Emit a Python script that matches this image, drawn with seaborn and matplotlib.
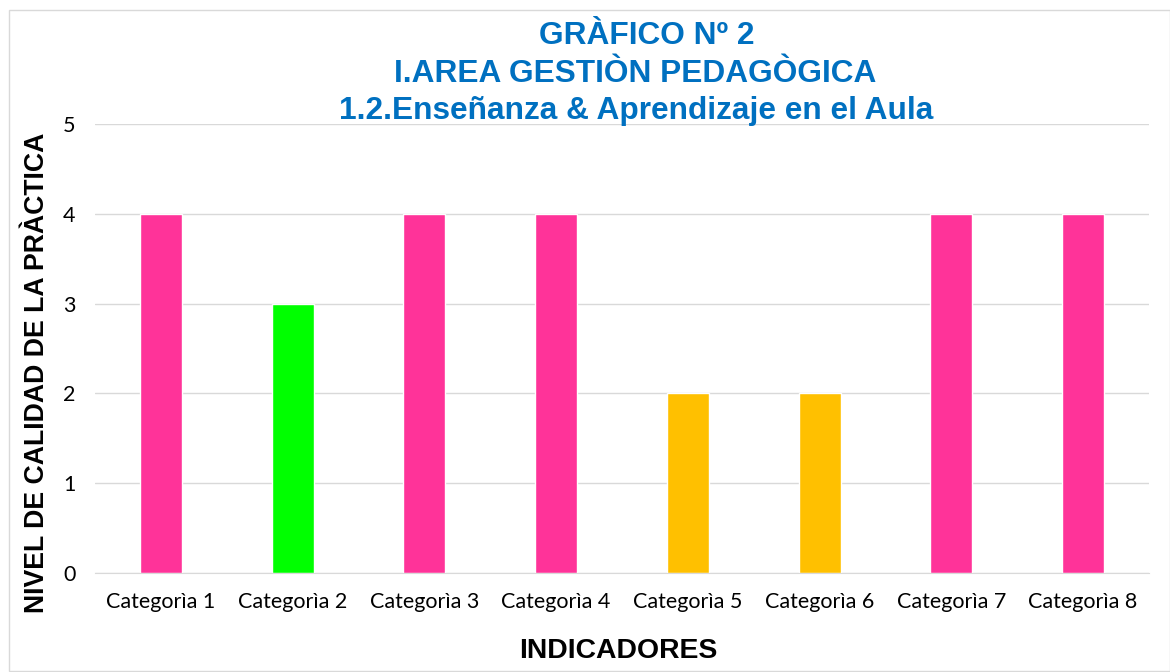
import matplotlib
matplotlib.use("Agg")
import matplotlib.pyplot as plt
import seaborn as sns
import pandas as pd
from matplotlib.patches import Rectangle

# ----------- Data ---------------------
categorias = ["Categorìa 1", "Categorìa 2", "Categorìa 3", "Categorìa 4",
              "Categorìa 5", "Categorìa 6", "Categorìa 7", "Categorìa 8"]
niveles = [4, 3, 4, 4, 2, 2, 4, 4]
colores = ["#FF3399", "#00FF00", "#FF3399", "#FF3399",
           "#FFC000", "#FFC000", "#FF3399", "#FF3399"]
titulos = ["GRÀFICO Nº 2", "I.AREA GESTIÒN PEDAGÒGICA",
           "1.2.Enseñanza & Aprendizaje en el Aula"]

df = pd.DataFrame({"categoria": categorias, "nivel": niveles})

# ----------- Chart ---------------------
sns.set_style("white")
plt.rcParams['font.family'] = ['Liberation Sans', 'DejaVu Sans']

fig = plt.figure(figsize=(11.7, 6.72), dpi=100)
ax = fig.add_axes([95 / 1170, 1 - 573 / 672, 1054 / 1170, 449 / 672])

sns.barplot(data=df, x="categoria", y="nivel", hue="categoria",
            palette=colores, width=0.32, legend=False, ax=ax, saturation=1)

ax.set_ylim(0, 5)
ax.set_yticks(range(0, 6))
ax.yaxis.grid(True, color="#D9D9D9", linewidth=1)
ax.set_axisbelow(True)
for s in ["top", "right", "left"]:
    ax.spines[s].set_visible(False)
ax.spines["bottom"].set_color("#D9D9D9")
ax.tick_params(axis="both", length=0, labelsize=15.5, labelcolor="#000000")
ax.tick_params(axis="x", pad=14)
ax.tick_params(axis="y", pad=14)
for lbl in ax.get_xticklabels() + ax.get_yticklabels():
    lbl.set_family(["Lato", "DejaVu Sans"])

ax.set_xlabel("")
ax.set_ylabel("")
fig.text(618 / 1170, 1 - 651 / 672, "INDICADORES", ha="center", va="center",
         fontsize=20.4, fontweight="bold", color="#000000")
fig.text(37 / 1170, 1 - 373 / 672, "NIVEL DE CALIDAD DE LA PRÀCTICA", ha="center", va="center",
         rotation=90, fontsize=19.2, fontweight="bold", color="#000000")

# title lines, each centred like the original
for txt, xc, yc in zip(titulos, [647, 635, 636], [33, 70, 107]):
    fig.text(xc / 1170, 1 - yc / 672, txt, ha="center", va="center_baseline",
             fontsize=22.8, fontweight="bold", color="#0070C0")

fig.patches.append(Rectangle((9 / 1170, 0.002), 1 - 9 / 1170, 1 - 10 / 672 - 0.002,
                             transform=fig.transFigure, fill=False,
                             edgecolor="#D9D9D9", linewidth=1))

fig.savefig("out.png", dpi=100)
